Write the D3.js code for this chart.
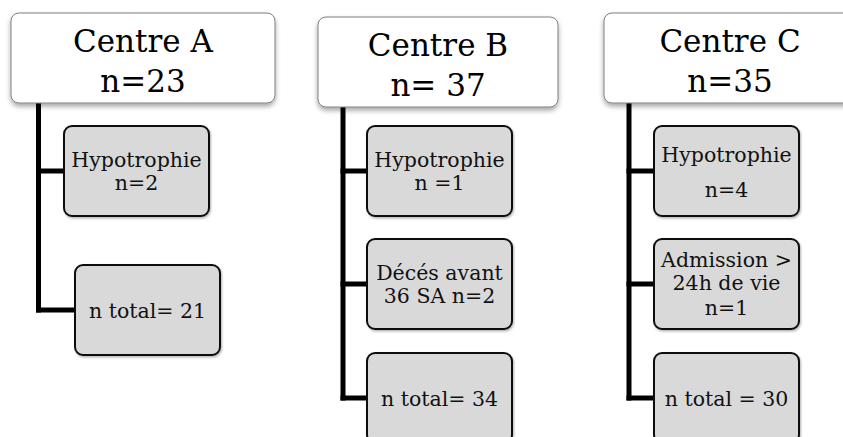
<!DOCTYPE html>
<html><head><meta charset="utf-8">
<script src="https://cdn.jsdelivr.net/npm/d3@7"></script>
<style>body{margin:0;background:#fff}svg{display:block}</style>
</head><body>
<svg id="c" width="843" height="437"></svg>
<script>
// ---- data ----
const centres = ["Centre A", "Centre B", "Centre C"];
const centreN = ["n=23", "n= 37", "n=35"];
const stepsA = [["Hypotrophie", "n=2"], ["n total= 21"]];
const stepsB = [["Hypotrophie", "n =1"], ["Décés avant", "36 SA n=2"], ["n total= 34"]];
const stepsC = [["Hypotrophie", "n=4"], ["Admission >", "24h de vie", "n=1"], ["n total = 30"]];
const steps = [stepsA, stepsB, stepsC];

// ---- layout ----
const svg = d3.select("#c");
const FONT = "'DejaVu Serif', serif";
const defs = svg.append("defs");
const f = defs.append("filter").attr("id","sh").attr("x","-10%").attr("y","-10%").attr("width","120%").attr("height","140%");
f.append("feDropShadow").attr("dx",0).attr("dy",3).attr("stdDeviation",2.5).attr("flood-color","#000").attr("flood-opacity",0.35);
const f2 = defs.append("filter").attr("id","sh2").attr("x","-10%").attr("y","-10%").attr("width","130%").attr("height","130%");
f2.append("feDropShadow").attr("dx",1).attr("dy",1.5).attr("stdDeviation",1.2).attr("flood-color","#000").attr("flood-opacity",0.3);

const topBox = {
  x: d3.scaleOrdinal().domain(centres).range([11, 318, 604]),
  y: d3.scaleOrdinal().domain(centres).range([13, 17, 13]),
  w: d3.scaleOrdinal().domain(centres).range([264, 240, 252]),
  h: 90
};
const lineX = d3.scaleOrdinal().domain(centres).range([38.5, 343, 629]);
const childX = d3.scaleOrdinal().domain(centres).range([64, 367, 654]);
const rowA = d3.scaleOrdinal().domain([0,1]).range([126, 265]);
const rowBC = d3.scaleOrdinal().domain([0,1,2]).range([126, 239, 353]);
const childW = 145, childH = 90;

centres.forEach((c, i) => {
  const g = svg.append("g");
  const bx = topBox.x(c), by = topBox.y(c), bw = topBox.w(c);
  const row = i === 0 ? rowA : rowBC;
  const st = steps[i];
  const lx = lineX(c);
  const childXs = st.map((s, j) => childX(c) + (i === 0 && j === 1 ? 11 : 0));
  const conY = st.map((s, j) => row(j) + 45);

  g.append("line").attr("x1", lx).attr("x2", lx).attr("y1", by + topBox.h - 2).attr("y2", conY[conY.length-1] + 2.5)
    .attr("stroke", "#000").attr("stroke-width", 5);
  st.forEach((s, j) => {
    g.append("line").attr("x1", lx - 2.5).attr("x2", childXs[j]).attr("y1", conY[j]).attr("y2", conY[j])
      .attr("stroke", "#000").attr("stroke-width", 5);
  });

  g.append("rect").attr("x", bx).attr("y", by).attr("width", bw).attr("height", topBox.h)
    .attr("rx", 8).attr("fill", "#fff").attr("stroke", "#7f7f7f").attr("stroke-width", 1)
    .attr("filter", "url(#sh)");
  const tcx = c === "Centre C" ? 730 : bx + bw / 2;
  g.append("text").attr("x", tcx).attr("y", by + 39).attr("text-anchor", "middle")
    .attr("font-family", FONT).attr("font-size", 31).text(c);
  g.append("text").attr("x", tcx).attr("y", by + 79).attr("text-anchor", "middle")
    .attr("font-family", FONT).attr("font-size", 31).text(centreN[i]);

  st.forEach((s, j) => {
    const y0 = row(j), x0 = childXs[j];
    g.append("rect").attr("x", x0).attr("y", y0).attr("width", childW).attr("height", childH)
      .attr("rx", 8).attr("fill", "#d9d9d9").attr("stroke", "#111").attr("stroke-width", 2)
      .attr("filter", "url(#sh2)");
    let ys;
    if (s.length === 1) ys = [y0 + 53];
    else if (s.length === 2) ys = (i === 2) ? [y0 + 36, y0 + 71] : [y0 + 41, y0 + 64];
    else ys = [y0 + 28, y0 + 51, y0 + 76];
    s.forEach((t, k) => {
      g.append("text").attr("x", x0 + childW / 2).attr("y", ys[k]).attr("text-anchor", "middle")
        .attr("font-family", FONT).attr("font-size", 20.5).attr("fill", "#111").text(t);
    });
  });
});
</script>
</body></html>
